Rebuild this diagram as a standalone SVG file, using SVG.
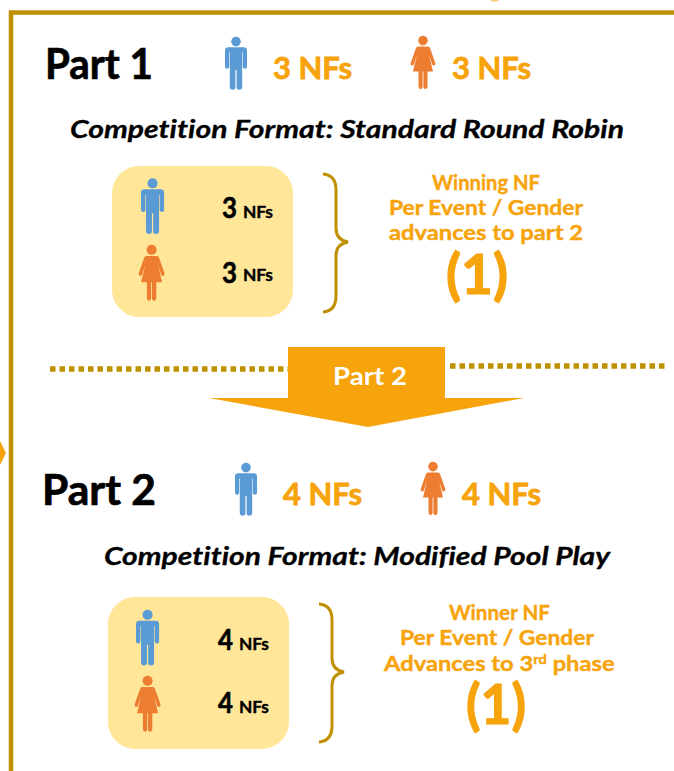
<svg xmlns="http://www.w3.org/2000/svg" width="674" height="771" viewBox="0 0 674 771">
<style>
text{font-family:"Lato","Liberation Sans",sans-serif;font-weight:700;font-variant-ligatures:none;paint-order:stroke}
.h{font-size:42px;fill:#000;stroke:#000;stroke-width:.7px}
.o{font-size:31px;fill:#f7a30c;stroke:#f7a30c;stroke-width:.8px}
.f{font-size:25px;font-style:italic;fill:#000;stroke:#000;stroke-width:.3px}
.w{font-size:21px;fill:#f7a30c;stroke:#f7a30c;stroke-width:.4px}
.b{font-size:56px;fill:#f7a30c;stroke:#f7a30c;stroke-width:1.2px}
.n{font-size:28px;fill:#000;stroke:#000;stroke-width:.6px}
.s{font-size:17px;fill:#000;stroke:#000;stroke-width:.4px}
.box{fill:#ffe699}
.br{fill:none;stroke:#bf9000;stroke-width:3}
.d{stroke:#bf9000;stroke-width:5.5;stroke-dasharray:5.5 4;fill:none}
</style>
<defs>
<g id="man" fill="#5b9bd5">
<circle cx="11" cy="4.600" r="4.800"/>
<path d="M3.500 10.300H18.500Q22 10.300 22 13.500V30Q22 31.800 20 31.800T17.800 30V15.500H17.200V50Q17.200 52.800 14.300 52.800T11.600 50V33H10.400V50Q10.400 52.800 7.700 52.800T4.800 50V15.500H4.200V30Q4.200 31.800 2.100 31.800T0 30V13.500Q0 10.300 3.500 10.300Z"/>
</g>
<g id="woman" fill="#ed7d31">
<circle cx="12" cy="4.600" r="4.800"/>
<path d="M7 10.500H17Q18.500 10.500 19 12L24.300 27Q24.600 29.500 23 29.500T21 28L18 18.500 22 35.500H16.500V50Q16.500 53 14.300 53T12.400 50V35.500H11.600V50Q11.600 53 9.600 53T7.500 50V35.500H2L6 18.500 3 28Q2.500 29.500 1 29.500T-.3 27L5 12Q5.500 10.500 7 10.500Z"/>
</g>
</defs>
<g id="frame">
<path d="M11 771V12.500H674" fill="none" stroke="#bf9000" stroke-width="4.500"/>
<path d="M0 441L6 453 0 465Z" fill="#f7a30c"/>
<path d="M490 0Q495 3 499 0Z" fill="#f9c56a"/>
</g>
<g id="connectors">
<path class="d" d="M50 369H290"/>
<path class="d" d="M450 366H668"/>
<path class="br" d="M323 174Q336 175 336 190V228Q336 240 348 242Q336 244 336 256V296Q336 311 323 312"/>
<path class="br" d="M319 604Q332 605 332 620V658Q332 670 344 672Q332 674 332 686V726Q332 741 319 742"/>
</g>
<g id="part1">
<text class="h" x="45" y="79" textLength="108" lengthAdjust="spacingAndGlyphs">Part 1</text>
<use href="#man" x="225" y="37"/>
<text class="o" x="273" y="79" textLength="79" lengthAdjust="spacingAndGlyphs">3 NFs</text>
<use href="#woman" x="411" y="36"/>
<text class="o" x="452" y="79" textLength="79" lengthAdjust="spacingAndGlyphs">3 NFs</text>
<text class="f" x="70" y="138" textLength="554" lengthAdjust="spacingAndGlyphs">Competition Format: Standard Round Robin</text>
</g>
<g id="box1">
<rect class="box" x="112" y="166" width="181" height="151" rx="27"/>
<use href="#man" transform="translate(141 178.500) scale(1.05)"/>
<use href="#woman" transform="translate(139 245) scale(1.05)"/>
<text class="n" x="222" y="218" textLength="15" lengthAdjust="spacingAndGlyphs">3</text>
<text class="s" x="243" y="218" textLength="30" lengthAdjust="spacingAndGlyphs">NFs</text>
<text class="n" x="222" y="283" textLength="15" lengthAdjust="spacingAndGlyphs">3</text>
<text class="s" x="243" y="281" textLength="30" lengthAdjust="spacingAndGlyphs">NFs</text>
</g>
<g id="result1">
<text class="w" x="432" y="190" textLength="108" lengthAdjust="spacingAndGlyphs">Winning NF</text>
<text class="w" x="389" y="215" textLength="194" lengthAdjust="spacingAndGlyphs">Per Event / Gender</text>
<text class="w" x="389" y="240" textLength="194" lengthAdjust="spacingAndGlyphs">advances to part 2</text>
<text class="b" x="446" y="294" textLength="62" lengthAdjust="spacingAndGlyphs">(1)</text>
</g>
<g id="arrow">
<path d="M288 347H445V398H524L368 427 209 398H288Z" fill="#f7a30c"/>
<text x="333" y="385" font-size="25" fill="#fff" textLength="74" lengthAdjust="spacingAndGlyphs">Part 2</text>
</g>
<g id="part2">
<text class="h" x="42" y="505" textLength="114" lengthAdjust="spacingAndGlyphs">Part 2</text>
<use href="#man" x="235" y="463"/>
<text class="o" x="283" y="505" textLength="79" lengthAdjust="spacingAndGlyphs">4 NFs</text>
<use href="#woman" x="421" y="462"/>
<text class="o" x="462" y="505" textLength="79" lengthAdjust="spacingAndGlyphs">4 NFs</text>
<text class="f" x="104" y="565" textLength="506" lengthAdjust="spacingAndGlyphs">Competition Format: Modified Pool Play</text>
</g>
<g id="box2">
<rect class="box" x="108" y="597" width="181" height="152" rx="27"/>
<use href="#man" transform="translate(136 610) scale(1.05)"/>
<use href="#woman" transform="translate(135 676) scale(1.05)"/>
<text class="n" x="218" y="650" textLength="15" lengthAdjust="spacingAndGlyphs">4</text>
<text class="s" x="239" y="650" textLength="30" lengthAdjust="spacingAndGlyphs">NFs</text>
<text class="n" x="218" y="713" textLength="15" lengthAdjust="spacingAndGlyphs">4</text>
<text class="s" x="239" y="713" textLength="30" lengthAdjust="spacingAndGlyphs">NFs</text>
</g>
<g id="result2">
<text class="w" x="449" y="620" textLength="101" lengthAdjust="spacingAndGlyphs">Winner NF</text>
<text class="w" x="400" y="645" textLength="194" lengthAdjust="spacingAndGlyphs">Per Event / Gender</text>
<text class="w" transform="translate(384 671) scale(1.13 1)"><tspan>Advances to 3</tspan><tspan font-size="13" dy="-7">rd</tspan><tspan dy="7"> phase</tspan></text>
<text class="b" x="466" y="724" textLength="60" lengthAdjust="spacingAndGlyphs">(1)</text>
</g>
</svg>
